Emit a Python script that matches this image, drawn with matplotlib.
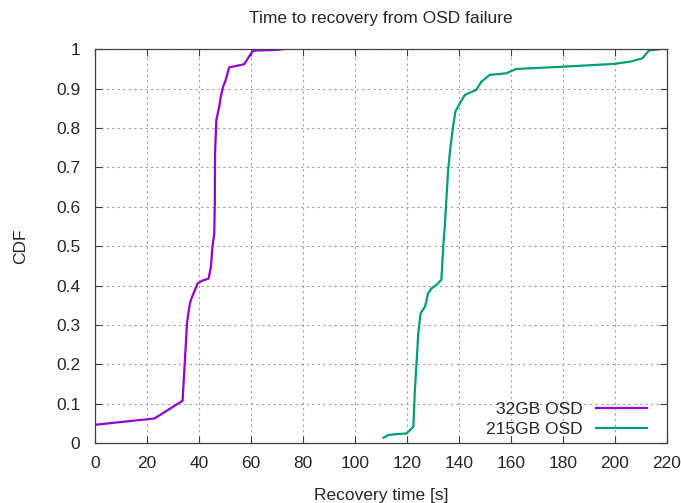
import matplotlib
matplotlib.use("Agg")
import matplotlib.pyplot as plt
import numpy as np

# CDF of recovery time
osd32_time = [0.0, 22.9, 33.7, 34.6, 35.4, 36.3, 36.9, 38.2, 39.5, 41.4, 43.7, 44.6,
              45.2, 45.9, 46.1, 46.2, 46.7, 47.8, 48.4, 49.3, 50.3, 51.6, 57.4, 60.5,
              61.8, 68.9, 72.0]
osd32_cdf = [0.047, 0.063, 0.108, 0.211, 0.305, 0.347, 0.364, 0.385, 0.406, 0.413, 0.418, 0.448,
             0.499, 0.533, 0.609, 0.736, 0.821, 0.854, 0.880, 0.905, 0.922, 0.954, 0.962, 0.994,
             0.997, 0.998, 1.0]

osd215_time = [111.0, 112.9, 115.5, 119.9, 122.5, 123.1, 123.8, 124.4, 125.3, 127.0, 128.2,
               129.5, 131.4, 133.3, 134.0, 134.6, 135.2, 135.9, 136.8, 137.8, 138.7, 140.4,
               142.3, 146.7, 148.7, 151.9, 158.2, 162.1, 180.6, 199.8, 206.2, 210.6, 213.2,
               217.0]
osd215_cdf = [0.014, 0.021, 0.023, 0.025, 0.042, 0.135, 0.211, 0.279, 0.330, 0.347, 0.381,
              0.393, 0.402, 0.415, 0.499, 0.550, 0.618, 0.694, 0.753, 0.804, 0.842, 0.863,
              0.884, 0.897, 0.918, 0.935, 0.939, 0.950, 0.956, 0.963, 0.969, 0.977, 0.997,
              1.0]

x_ticks = list(range(0, 221, 20))
y_ticks = [0, 0.1, 0.2, 0.3, 0.4, 0.5, 0.6, 0.7, 0.8, 0.9, 1]
y_tick_labels = ["0", "0.1", "0.2", "0.3", "0.4", "0.5", "0.6", "0.7", "0.8", "0.9", "1"]

plt.rcParams['font.family'] = ['Liberation Sans', 'DejaVu Sans']
txt_color = "#262626"

fig = plt.figure(figsize=(6.81, 5.03), dpi=100)
ax = fig.add_axes([0.1395, 0.1187, 0.8395, 0.7833])

ax.plot(osd32_time, osd32_cdf, color="#9400d3", linewidth=1.6, label="32GB OSD")
ax.plot(osd215_time, osd215_cdf, color="#009e73", linewidth=1.6, label="215GB OSD")

ax.set_xlim(0, 220)
ax.set_ylim(0, 1)
ax.set_xticks(x_ticks)
ax.set_yticks(y_ticks)
ax.set_yticklabels(y_tick_labels)
ax.tick_params(direction="in", top=True, right=True, length=5, width=0.8,
               labelsize=12.5, labelcolor=txt_color, color="#404040")
ax.tick_params(axis="x", pad=9.5)
ax.tick_params(axis="y", pad=10.5)
ax.grid(True, color="#a0a0a0", linestyle=(0, (2, 3)), linewidth=0.8)
for s in ax.spines.values():
    s.set_color("#404040")
    s.set_linewidth(0.9)

ax.set_title("Time to recovery from OSD failure", fontsize=12.5, pad=19, color=txt_color)
ax.set_xlabel("Recovery time [s]", fontsize=12.5, labelpad=12, color=txt_color)
ax.set_ylabel("CDF", fontsize=12.5, labelpad=20, color=txt_color)

leg = ax.legend(loc="lower right", frameon=False, markerfirst=False, fontsize=12.5,
                handlelength=2.9, handletextpad=0.8, labelspacing=0.25,
                borderaxespad=0.1, bbox_to_anchor=(0.98, -0.005))
for t in leg.get_texts():
    t.set_ha("right")
    t.set_color(txt_color)

fig.savefig("out.png", dpi=100)
